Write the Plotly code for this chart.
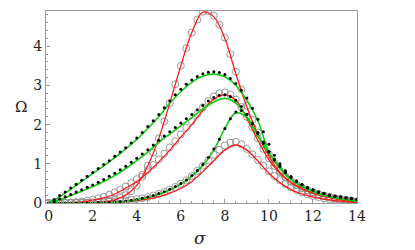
import plotly.graph_objects as go

# ---- data ----
x_line = [i * 0.5 for i in range(29)]          # 0 .. 14 step 0.5
x_mark = [i * 0.25 for i in range(57)]         # 0 .. 14 step 0.25

r1_line = [0, 0, 0, 0, 0.01, 0.03, 0.08, 0.2, 0.45, 0.95, 1.65, 2.55, 3.5, 4.35, 4.87,
           4.75, 4.2, 3.3, 2.45, 1.75, 1.2, 0.78, 0.53, 0.37, 0.25, 0.17, 0.11, 0.06, 0.03]
r2_line = [0, 0, 0.01, 0.03, 0.07, 0.13, 0.23, 0.38, 0.55, 0.78, 1.05, 1.35, 1.68, 2.0, 2.36,
           2.65, 2.76, 2.62, 2.15, 1.6, 1.1, 0.76, 0.52, 0.36, 0.25, 0.17, 0.11, 0.06, 0.03]
r3_line = [0, 0, 0, 0, 0.005, 0.01, 0.02, 0.03, 0.06, 0.1, 0.16, 0.25, 0.37, 0.55, 0.8,
           1.08, 1.35, 1.48, 1.35, 1.07, 0.76, 0.52, 0.34, 0.23, 0.15, 0.1, 0.06, 0.03, 0.01]
g1_line = [0, 0.16, 0.35, 0.55, 0.75, 0.95, 1.16, 1.38, 1.62, 1.9, 2.2, 2.55, 2.84, 3.08, 3.24,
           3.29, 3.22, 3.0, 2.62, 2.1, 1.3, 0.88, 0.6, 0.42, 0.3, 0.2, 0.14, 0.09, 0.05]
g2_line = [0, 0.08, 0.19, 0.3, 0.42, 0.55, 0.7, 0.88, 1.08, 1.3, 1.55, 1.76, 1.97, 2.18, 2.4,
           2.58, 2.67, 2.55, 2.2, 1.7, 1.28, 0.9, 0.6, 0.42, 0.3, 0.2, 0.14, 0.09, 0.05]
g3_line = [0, 0, 0, 0, 0.005, 0.01, 0.02, 0.04, 0.08, 0.14, 0.22, 0.33, 0.48, 0.68, 0.96,
           1.35, 1.9, 2.3, 2.18, 1.72, 1.27, 0.9, 0.6, 0.42, 0.29, 0.2, 0.13, 0.09, 0.05]

r1_mark = [0, 0, 0, 0, 0, 0, 0.005, 0.01, 0.01, 0.02, 0.03, 0.05, 0.08, 0.13, 0.2, 0.3,
           0.45, 0.67, 0.95, 1.28, 1.65, 2.08, 2.55, 3.03, 3.5, 3.95, 4.35, 4.68, 4.88, 4.9,
           4.78, 4.55, 4.22, 3.8, 3.35, 2.9, 2.48, 2.12, 1.8, 1.5, 1.24, 1.02, 0.82, 0.67,
           0.55, 0.46, 0.39, 0.32, 0.27, 0.23, 0.19, 0.15, 0.12, 0.1, 0.08, 0.06, 0.04]
r2_mark = [0, 0, 0.005, 0.01, 0.015, 0.025, 0.04, 0.06, 0.09, 0.12, 0.16, 0.21, 0.27, 0.34,
           0.42, 0.51, 0.61, 0.72, 0.84, 0.97, 1.11, 1.26, 1.42, 1.58, 1.75, 1.92, 2.09, 2.27,
           2.44, 2.6, 2.72, 2.8, 2.82, 2.77, 2.64, 2.45, 2.2, 1.93, 1.65, 1.38, 1.14, 0.95,
           0.79, 0.66, 0.55, 0.46, 0.38, 0.32, 0.27, 0.22, 0.18, 0.15, 0.12, 0.1, 0.08, 0.06, 0.04]
r3_mark = [0, 0, 0, 0, 0, 0, 0, 0, 0.01, 0.015, 0.02, 0.03, 0.04, 0.05, 0.06, 0.08, 0.1,
           0.12, 0.15, 0.19, 0.23, 0.28, 0.34, 0.41, 0.49, 0.58, 0.69, 0.82, 0.95, 1.09, 1.23,
           1.36, 1.47, 1.54, 1.56, 1.5, 1.38, 1.24, 1.1, 0.95, 0.81, 0.69, 0.58, 0.48, 0.4,
           0.33, 0.27, 0.22, 0.18, 0.15, 0.12, 0.1, 0.08, 0.06, 0.05, 0.04, 0.03]
g1_mark = [0, 0.09, 0.19, 0.28, 0.38, 0.48, 0.58, 0.68, 0.78, 0.88, 0.98, 1.08, 1.19, 1.3,
           1.41, 1.53, 1.66, 1.8, 1.95, 2.1, 2.26, 2.43, 2.6, 2.76, 2.9, 3.03, 3.14, 3.23, 3.3,
           3.34, 3.35, 3.33, 3.28, 3.18, 3.05, 2.88, 2.68, 2.42, 2.14, 1.82, 1.5, 1.22, 1.0,
           0.82, 0.67, 0.56, 0.47, 0.39, 0.33, 0.28, 0.24, 0.2, 0.17, 0.15, 0.13, 0.11, 0.09]
g2_mark = [0, 0.05, 0.1, 0.16, 0.22, 0.28, 0.34, 0.4, 0.46, 0.53, 0.6, 0.68, 0.76, 0.85,
           0.94, 1.04, 1.14, 1.25, 1.36, 1.48, 1.6, 1.71, 1.82, 1.93, 2.04, 2.15, 2.26, 2.38,
           2.49, 2.6, 2.69, 2.75, 2.76, 2.72, 2.62, 2.46, 2.26, 2.02, 1.77, 1.52, 1.3, 1.1,
           0.93, 0.78, 0.66, 0.55, 0.46, 0.39, 0.33, 0.28, 0.24, 0.2, 0.17, 0.15, 0.13, 0.11, 0.09]
g3_mark = [0, 0, 0, 0, 0, 0, 0, 0, 0.005, 0.01, 0.015, 0.02, 0.03, 0.04, 0.05, 0.07, 0.09,
           0.12, 0.15, 0.19, 0.24, 0.29, 0.35, 0.42, 0.5, 0.59, 0.7, 0.83, 0.98, 1.16, 1.38,
           1.63, 1.9, 2.15, 2.32, 2.36, 2.26, 2.04, 1.8, 1.55, 1.32, 1.12, 0.95, 0.8, 0.67,
           0.56, 0.47, 0.39, 0.33, 0.28, 0.24, 0.2, 0.17, 0.15, 0.13, 0.11, 0.09]

x_ticks = [0, 2, 4, 6, 8, 10, 12, 14]
y_ticks = [0, 1, 2, 3, 4]

RED = "#ff1a1a"
GREEN = "#11cc11"
GREY = "#8c8c8c"
SERIF = "DejaVu Serif"

fig = go.Figure()

for ym in (r1_mark, r2_mark, r3_mark):
    fig.add_trace(go.Scatter(x=x_mark, y=ym, mode="markers",
                             marker=dict(symbol="circle-open", size=7, color=GREY,
                                         line=dict(width=0.9, color=GREY)),
                             hoverinfo="skip", showlegend=False))
for yl in (r1_line, r2_line, r3_line):
    fig.add_trace(go.Scatter(x=x_line, y=yl, mode="lines", line_shape="spline",
                             line=dict(color=RED, width=1.3), showlegend=False))
for yl in (g1_line, g2_line, g3_line):
    fig.add_trace(go.Scatter(x=x_line, y=yl, mode="lines", line_shape="spline",
                             line=dict(color=GREEN, width=1.6), showlegend=False))
for ym in (g1_mark, g2_mark, g3_mark):
    fig.add_trace(go.Scatter(x=x_mark, y=ym, mode="markers",
                             marker=dict(symbol="circle", size=3, color="black"),
                             hoverinfo="skip", showlegend=False))

axis_common = dict(showgrid=False, zeroline=False, showline=True, mirror=True,
                   linecolor="#999999", linewidth=1, ticks="inside", ticklen=4,
                   tickcolor="#999999", tickwidth=1, automargin=False,
                   tickfont=dict(family=SERIF, size=14, color="#222222"))

# the page body adds an 8 px offset, so the figure is 407x242 and starts at (8, 8)
fig.update_layout(
    width=407, height=242,
    margin=dict(l=38, r=58, t=3, b=47, autoexpand=False),
    paper_bgcolor="white", plot_bgcolor="white",
    font=dict(family=SERIF),
    xaxis=dict(range=[-0.12, 14], tickvals=x_ticks, ticktext=[str(v) for v in x_ticks],
               minor=dict(ticks="inside", dtick=0.5, tick0=0, ticklen=2, tickcolor="#999999"),
               **axis_common),
    yaxis=dict(range=[0, 4.9], tickvals=y_ticks, ticktext=[str(v) for v in y_ticks],
               minor=dict(ticks="inside", dtick=0.2, tick0=0, ticklen=2, tickcolor="#999999"),
               **axis_common),
    annotations=[
        dict(text="Ω", xref="paper", yref="paper", x=-0.08, y=0.5, showarrow=False,
             xanchor="center", yanchor="middle",
             font=dict(family=SERIF, size=15, color="#222222")),
        dict(text="<i>σ</i>", xref="paper", yref="paper", x=0.495, y=-0.18, showarrow=False,
             xanchor="center", yanchor="middle",
             font=dict(family=SERIF, size=17, color="#222222")),
    ],
)

fig.write_html("out.html")
